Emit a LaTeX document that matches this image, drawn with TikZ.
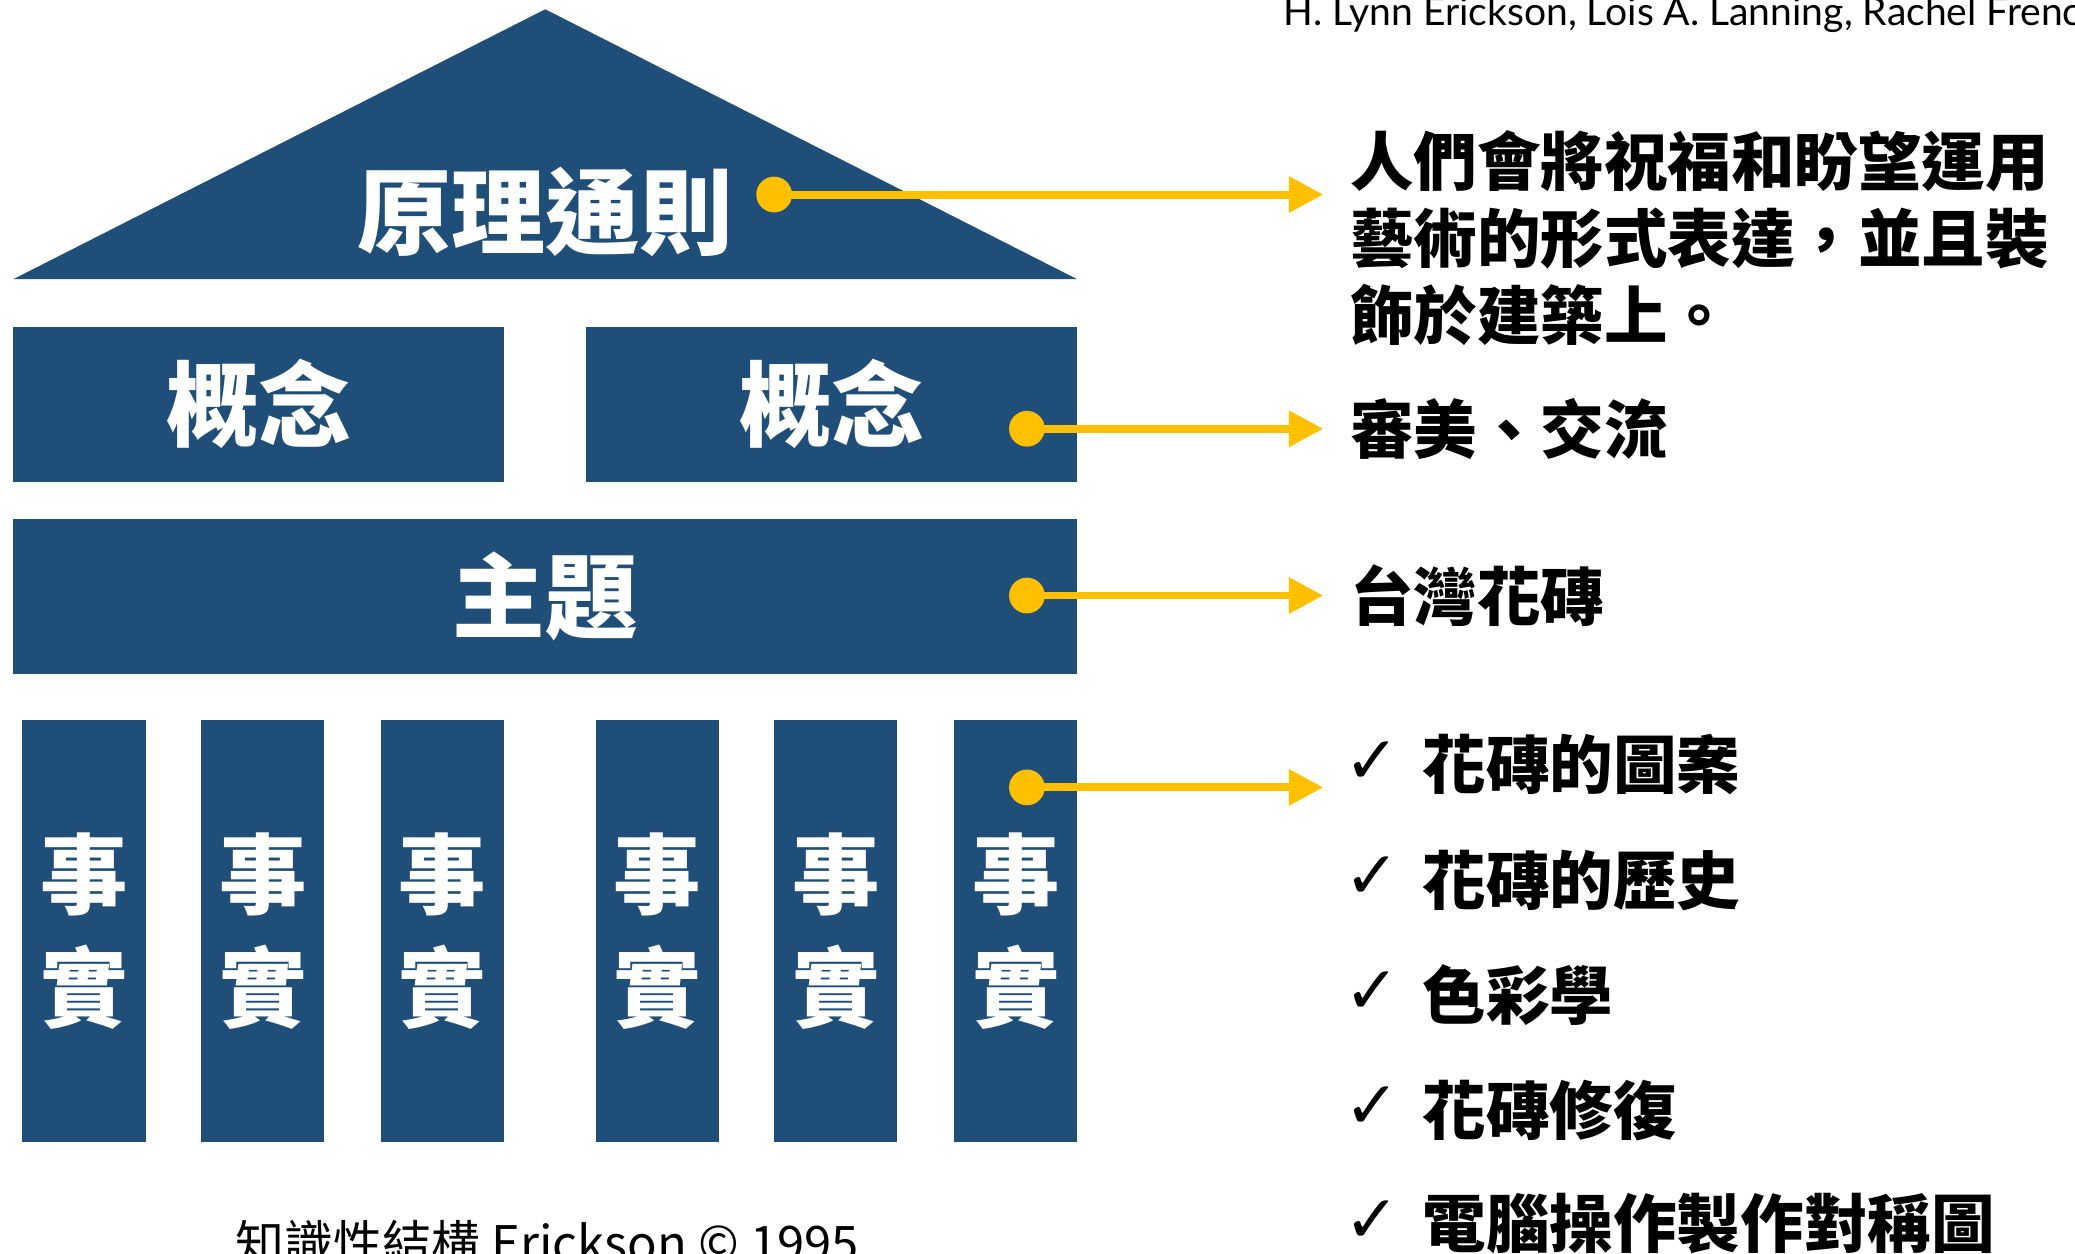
\documentclass[tikz,border=0pt]{standalone}
\usepackage{fontspec}
\newfontfamily\cjk{Noto Sans CJK TC}
\newfontfamily\djv{DejaVu Sans}
\newfontfamily\latf{Lato}
\usetikzlibrary{arrows.meta}
\definecolor{navy}{HTML}{1F4E79}
\definecolor{gold}{HTML}{FFC000}
\tikzset{
  blockbox/.style={fill=navy, draw=none, inner sep=0pt, text=white, font=\cjk\bfseries\fontsize{70}{70}\selectfont},
  pillar/.style={fill=navy, draw=none, inner sep=0pt, minimum width=93pt, minimum height=319pt, text=white, align=center, font=\cjk\bfseries\fontsize{66}{85}\selectfont},
  dotnode/.style={circle, fill=gold, draw=none, minimum size=27pt, inner sep=0pt},
  conn/.style={draw=gold, line width=6pt, -{Triangle[length=26pt,width=26pt]}},
  rtext/.style={anchor=west, inner sep=0pt, align=left, font=\cjk\bfseries\fontsize{48}{58}\selectfont},
  chk/.style={anchor=west, inner sep=0pt, font=\djv\bfseries\fontsize{50}{50}\selectfont}
}
\begin{document}
\begin{tikzpicture}[x=1pt,y=-1pt]
\useasboundingbox (0,0) rectangle (1568,947);
% roof
\fill[navy] (10,211) -- (412,7) -- (814,211) -- cycle;
\node[inner sep=0pt, text=white, font=\cjk\bfseries\fontsize{71}{71}\selectfont] (roof) at (412,160) {原理通則};
% concepts
\node[blockbox, minimum width=371pt, minimum height=117pt] (c1) at (195.5,305.5) {概念};
\node[blockbox, minimum width=371pt, minimum height=117pt] (c2) at (628.5,305.5) {概念};
% theme
\node[blockbox, minimum width=804pt, minimum height=117pt] (th) at (412,450.5) {主題};
% facts
\node[pillar] (f1) at (63.5,703.5) {事\\實};
\node[pillar] (f2) at (198.5,703.5) {事\\實};
\node[pillar] (f3) at (334.5,703.5) {事\\實};
\node[pillar] (f4) at (496.5,703.5) {事\\實};
\node[pillar] (f5) at (631.5,703.5) {事\\實};
\node[pillar] (f6) at (767.5,703.5) {事\\實};
% connectors
\node[dotnode] (d1) at (585,147) {};
\node[dotnode] (d2) at (776,324) {};
\node[dotnode] (d3) at (776,450) {};
\node[dotnode] (d4) at (776,595) {};
\coordinate (e1) at (1000,147);
\coordinate (e2) at (1000,324);
\coordinate (e3) at (1000,450);
\coordinate (e4) at (1000,595);
\draw[conn] (d1.center) -- (e1);
\draw[conn] (d2.center) -- (e2);
\draw[conn] (d3.center) -- (e3);
\draw[conn] (d4.center) -- (e4);
% right texts
\node[rtext] (t1) at (1020,180) {人們會將祝福和盼望運用\\藝術的形式表達，並且裝\\飾於建築上。};
\node[rtext] (t2) at (1020,324) {審美、交流};
\node[rtext] (t3) at (1020,450) {台灣花磚};
\node[chk] (k1) at (1016,576) {✓};
\node[rtext] (l1) at (1075,578) {花磚的圖案};
\node[chk] (k2) at (1016,663) {✓};
\node[rtext] (l2) at (1075,665) {花磚的歷史};
\node[chk] (k3) at (1016,750) {✓};
\node[rtext] (l3) at (1075,752) {色彩學};
\node[chk] (k4) at (1016,837) {✓};
\node[rtext] (l4) at (1075,839) {花磚修復};
\node[chk] (k5) at (1016,923) {✓};
\node[rtext] (l5) at (1075,925) {電腦操作製作對稱圖};
% credits
\node[anchor=base west, inner sep=0pt, font=\latf\fontsize{29.5}{29.5}\selectfont] (auth) at (970,19) {H. Lynn Erickson, Lois A. Lanning, Rachel French};
\node[anchor=base west, inner sep=0pt, font=\cjk\fontsize{37}{37}\selectfont] (src) at (178,953) {知識性結構 Erickson © 1995};
\end{tikzpicture}
\end{document}
